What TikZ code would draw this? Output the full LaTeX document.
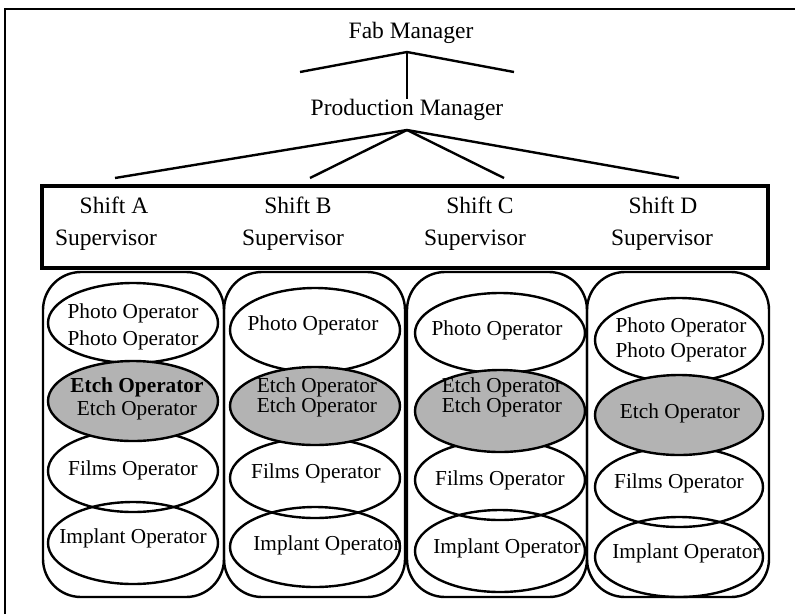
\documentclass[tikz,border=0pt]{standalone}
\usepackage{fontspec}
\setmainfont{Liberation Serif}
\usetikzlibrary{shapes.geometric}
\definecolor{etchgray}{RGB}{179,179,179}
\begin{document}
\begin{tikzpicture}[x=1pt,y=-1pt,
  big/.style={font=\fontsize{23.5}{28}\selectfont, inner sep=0pt},
  optext/.style={font=\fontsize{21.3}{24}\selectfont, inner sep=0pt, align=center},
  conn/.style={line width=2.4pt},
  colbox/.style={draw, line width=2.4pt, rounded corners=38pt, minimum height=325pt, inner sep=0pt},
  oval/.style={draw, ellipse, line width=2.4pt, minimum width=170pt, minimum height=80pt, inner sep=0pt},
  etchoval/.style={oval, fill=etchgray}]
\useasboundingbox (0,0) rectangle (795,614);
% outer frame (top and left edges)
\coordinate (frb) at (5,614);
\coordinate (frc) at (5,9);
\coordinate (frr) at (795,9);
\draw[line width=2.2pt] (frb) -- (frc) -- (frr);

% managers
\node[big] (fab) at (411,33) {Fab Manager};
\node[big] (prod) at (407,110) {Production Manager};
\coordinate (fj) at (407,52);
\coordinate (fl) at (300,72);
\coordinate (fr) at (514,72);
\draw[conn] (fl) -- (fj) -- (fr);
\draw[conn] (fj) -- (prod.north);
\coordinate (pj) at (407,130);
\coordinate (ea) at (115,178);
\coordinate (eb) at (310,178);
\coordinate (ec) at (504,178);
\coordinate (ed) at (679,178);
\draw[conn] (pj) -- (ea);
\draw[conn] (pj) -- (eb);
\draw[conn] (pj) -- (ec);
\draw[conn] (pj) -- (ed);

% shift box
\node[draw, line width=3.2pt, minimum width=726pt, minimum height=82pt, inner sep=0pt] (shiftbox) at (405,227) {};
\node[big] (shA) at (114,205) {Shift A};
\node[big] (suA) at (106,240) {Supervisor};
\node[big] (shB) at (298,205) {Shift B};
\node[big] (suB) at (293,240) {Supervisor};
\node[big] (shC) at (480,205) {Shift C};
\node[big] (suC) at (475,240) {Supervisor};
\node[big] (shD) at (663,205) {Shift D};
\node[big] (suD) at (662,240) {Supervisor};

% columns
\node[colbox, minimum width=181pt] (colA) at (133.5,434.5) {};
\node[colbox, minimum width=181pt] (colB) at (314.5,434.5) {};
\node[colbox, minimum width=180pt] (colC) at (497,434.5) {};
\node[colbox, minimum width=182pt] (colD) at (678,434.5) {};

% column A
\node[oval] (pA) at (133,323) {};
\node[oval, minimum height=82pt] (fA) at (133,471) {};
\node[oval, minimum height=82pt] (iA) at (133,543) {};
\node[etchoval] (eA) at (133,401) {};
\node[optext, font=\fontsize{21.3}{27}\selectfont] (tpA) at (133,326.5) {Photo Operator\\Photo Operator};
\node[optext, font=\fontsize{21.3}{23}\selectfont] (teA) at (137,398.5) {\textbf{Etch Operator}\\Etch Operator};
\node[optext] (tfA) at (133,470) {Films Operator};
\node[optext] (tiA) at (133,538) {Implant Operator};

% column B
\node[oval, minimum height=84pt] (pB) at (315,330) {};
\node[oval] (fB) at (315,478) {};
\node[oval] (iB) at (315,547) {};
\node[etchoval, minimum height=78pt] (eB) at (315,406) {};
\node[optext] (tpB) at (313,325) {Photo Operator};
\node[optext, font=\fontsize{21.3}{19}\selectfont] (teB) at (317,397.5) {Etch Operator\\Etch Operator};
\node[optext] (tfB) at (316,473) {Films Operator};
\node[optext] (tiB) at (327,545) {Implant Operator};

% column C
\node[oval] (pC) at (500,333) {};
\node[oval] (fC) at (500,480) {};
\node[oval, minimum height=82pt] (iC) at (500,551) {};
\node[etchoval, minimum height=82pt] (eC) at (500,411) {};
\node[optext] (tpC) at (497,330) {Photo Operator};
\node[optext, font=\fontsize{21.3}{19}\selectfont] (teC) at (502,397.5) {Etch Operator\\Etch Operator};
\node[optext] (tfC) at (500,480) {Films Operator};
\node[optext] (tiC) at (507,548) {Implant Operator};

% column D
\node[oval, minimum width=168pt, minimum height=84pt] (pD) at (679,340) {};
\node[oval, minimum width=168pt] (fD) at (679,487) {};
\node[oval, minimum width=168pt] (iD) at (679,557) {};
\node[etchoval, minimum width=168pt] (eD) at (679,415) {};
\node[optext, font=\fontsize{21.3}{25}\selectfont] (tpD) at (681,339.5) {Photo Operator\\Photo Operator};
\node[optext] (teD) at (680,413) {Etch Operator};
\node[optext] (tfD) at (679,483) {Films Operator};
\node[optext] (tiD) at (686,553) {Implant Operator};
\end{tikzpicture}
\end{document}
